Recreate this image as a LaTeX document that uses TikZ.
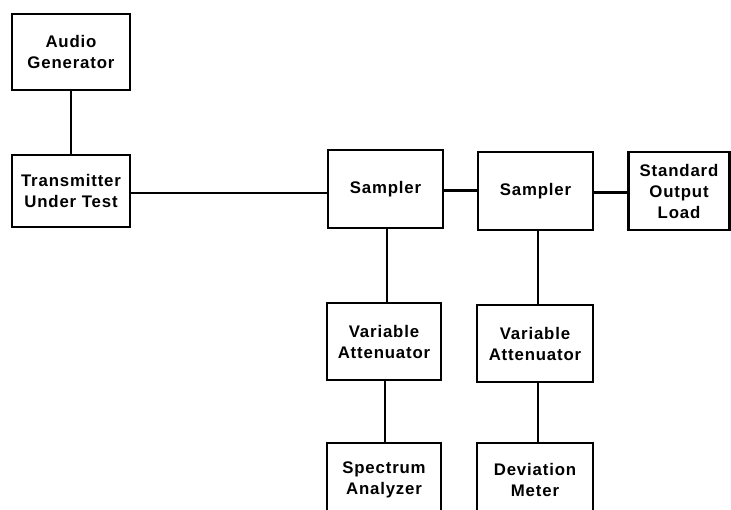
\documentclass[tikz,border=0pt]{standalone}
\usepackage{fontspec}
\setmainfont{Liberation Sans}[LetterSpace=5]
\begin{document}
\begin{tikzpicture}[x=1pt,y=-1pt,
  lbl/.style={align=center,font=\fontsize{16.8}{21}\selectfont\bfseries},
  blk/.style={draw=black,line width=2.8pt,fill=white,inner sep=0pt,lbl},
  wire/.style={line width=1.9pt},
  thickwire/.style={line width=3pt}]
\useasboundingbox (0,0) rectangle (731,510);
\clip (0,0) rectangle (731,510);
\fill[white] (0,0) rectangle (731,510);
\node[blk,minimum width=118pt,minimum height=76pt] (ag) at (71,52) {Audio\\Generator};
\node[blk,minimum width=118pt,minimum height=72pt] (tx) at (71,191) {Transmitter\\Under Test};
\node[blk,minimum width=115pt,minimum height=78pt] (s1) at (385.5,189) {Sampler};
\node[blk,minimum width=115pt,minimum height=78pt] (s2) at (535.5,191) {Sampler};
\node[blk,minimum width=101pt,minimum height=78pt] (sol) at (679,191) {Standard\\Output\\Load};
\node[blk,minimum width=114pt,minimum height=77pt] (va1) at (384,341.5) {Variable\\Attenuator};
\node[blk,minimum width=116pt,minimum height=77pt] (va2) at (535,343.5) {Variable\\Attenuator};
\node[blk,minimum width=114pt,minimum height=80pt] (sa) at (384,483) {};
\node[blk,minimum width=116pt,minimum height=80pt] (dm) at (535,483) {};
\node[lbl] (sat) at (384,480) {Spectrum\\Analyzer};
\node[lbl] (dmt) at (535,480) {Deviation\\Meter};
\draw[wire] (ag.south) -- (tx.north);
\draw[wire] (tx.east |- 0,193) -- (s1.west |- 0,193);
\draw[thickwire] (s1.east |- 0,191) -- (s2.west |- 0,191);
\draw[thickwire] (s2.east |- 0,193) -- (sol.west |- 0,193);
\draw[wire] (s1.south -| 387,0) -- (va1.north -| 387,0);
\draw[wire] (s2.south -| 538,0) -- (va2.north -| 538,0);
\draw[wire] (va1.south -| 385,0) -- (sa.north -| 385,0);
\draw[wire] (va2.south -| 538,0) -- (dm.north -| 538,0);
\end{tikzpicture}
\end{document}
